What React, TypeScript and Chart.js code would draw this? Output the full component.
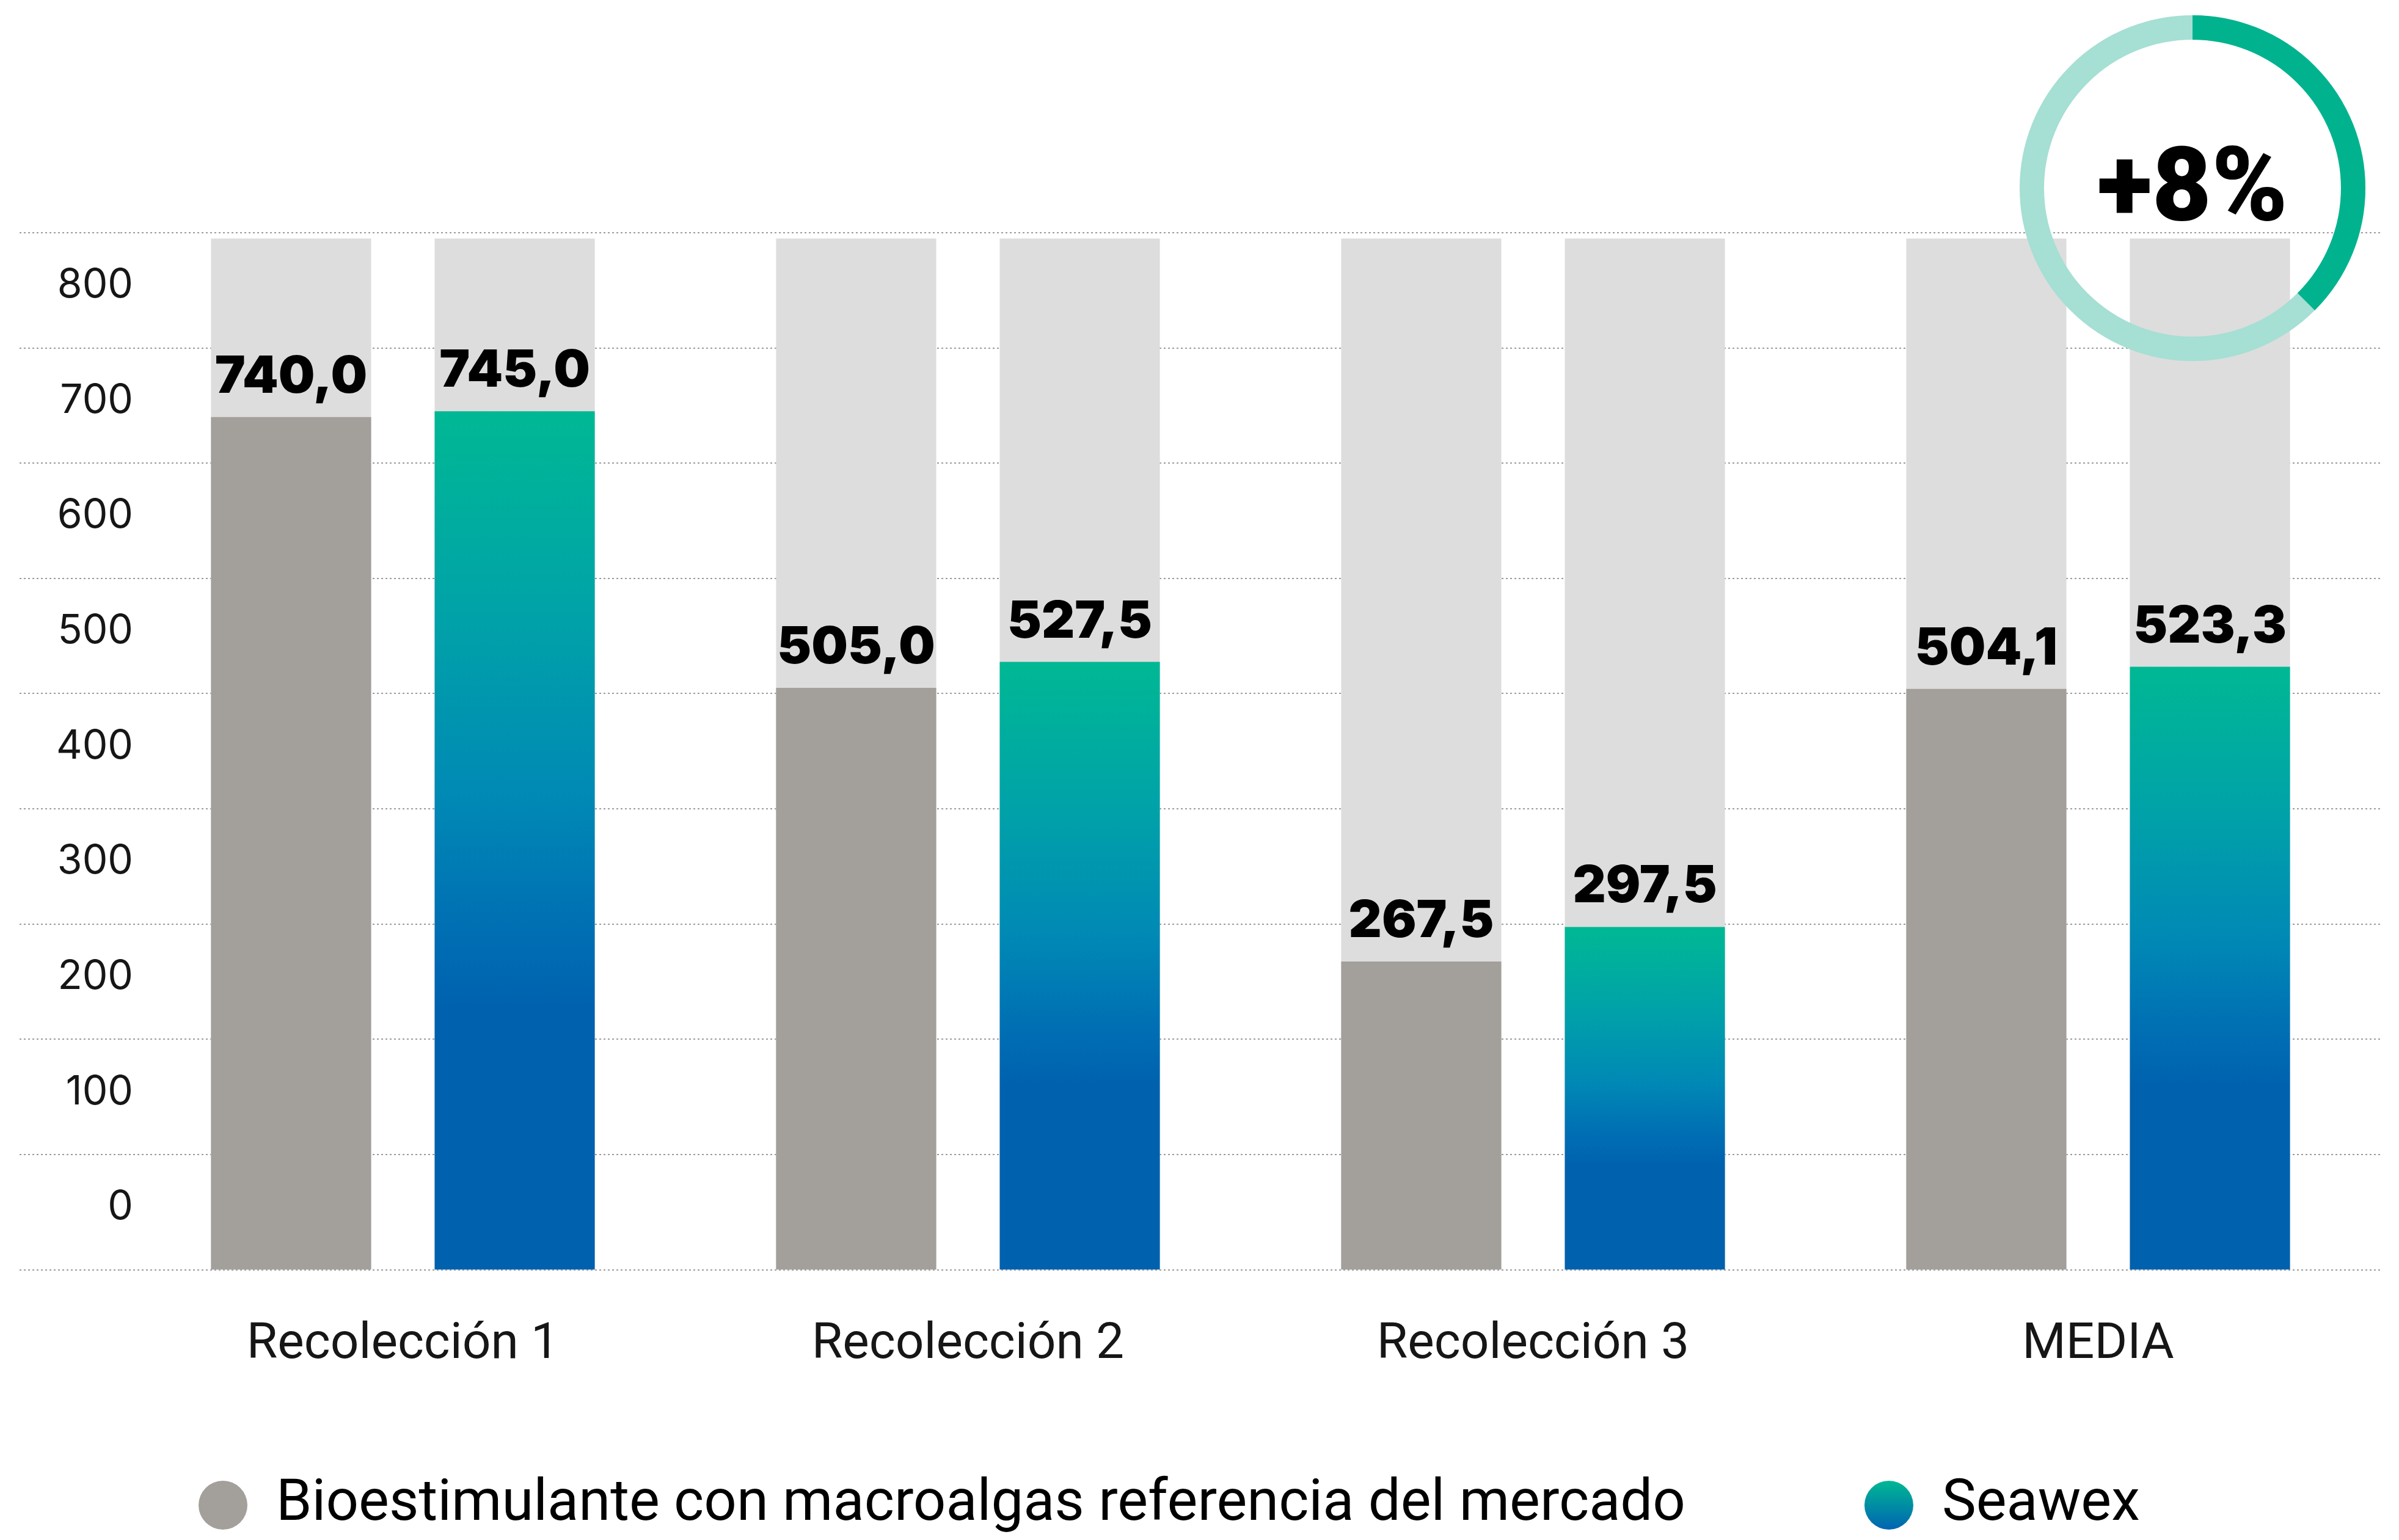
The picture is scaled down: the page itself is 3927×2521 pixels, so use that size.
import React, { useEffect, useRef } from 'react';
import { Chart, registerables } from 'chart.js';

Chart.register(...registerables);

// ---------- data ----------
const categories = ['Recolección 1', 'Recolección 2', 'Recolección 3', 'MEDIA'];
const referenciaValues = [740.0, 505.0, 267.5, 504.1];
const seawexValues = [745.0, 527.5, 297.5, 523.3];
const trackValues = [895, 895, 895, 895];
const yTickLabels = [0, 100, 200, 300, 400, 500, 600, 700, 800];
const seriesNames = ['Bioestimulante con macroalgas referencia del mercado', 'Seawex'];
const increaseLabel = '+8%';
const increaseArcFraction = 0.375;

// ---------- style ----------
const GRAY = '#a39f9b';
const TRACK = '#dddddd';
const GRID = '#9c9c9c';
const TEXT = '#161616';
const GRAD_STOPS: [number, string][] = [
  [0, '#00b894'],
  [0.25, '#00a1a9'],
  [0.45, '#0089b5'],
  [0.62, '#006cb3'],
  [0.7, '#0061ae'],
  [1, '#0061ae'],
];

const fmt = (v: number) => v.toFixed(1).replace('.', ',');

function makeMarker(fill: (ctx: CanvasRenderingContext2D) => string | CanvasGradient, w: number, d: number) {
  const c = document.createElement('canvas');
  c.width = w;
  c.height = d;
  const g = c.getContext('2d')!;
  g.beginPath();
  g.arc(w - d / 2, d / 2, d / 2, 0, Math.PI * 2);
  g.fillStyle = fill(g);
  g.fill();
  return c;
}

const valueLabelPlugin = {
  id: 'valueLabels',
  afterDatasetsDraw(chart: any) {
    const ctx = chart.ctx;
    ctx.save();
    ctx.font = '900 84px Inter';
    ctx.fillStyle = '#000';
    ctx.textAlign = 'center';
    ctx.textBaseline = 'alphabetic';
    [0, 1].forEach((di) => {
      const meta = chart.getDatasetMeta(di);
      const values = chart.data.datasets[di].data as number[];
      meta.data.forEach((bar: any, j: number) => {
        ctx.fillText(fmt(values[j]), bar.x, bar.y - 40);
      });
    });
    ctx.restore();
  },
};

const ringPlugin = {
  id: 'increaseRing',
  afterDatasetsDraw(chart: any) {
    const { ctx, chartArea } = chart;
    const cx = chartArea.right - 308;
    const cy = chartArea.top - 73;
    const r = 263;
    ctx.save();
    ctx.lineWidth = 40;
    ctx.lineCap = 'butt';
    ctx.strokeStyle = '#a6dfd4';
    ctx.beginPath();
    ctx.arc(cx, cy, r, 0, Math.PI * 2);
    ctx.stroke();
    ctx.strokeStyle = '#00b38e';
    ctx.beginPath();
    ctx.arc(cx, cy, r, -Math.PI / 2, -Math.PI / 2 + Math.PI * 2 * increaseArcFraction);
    ctx.stroke();
    ctx.font = '900 168px Roboto';
    ctx.fillStyle = '#000';
    ctx.textAlign = 'center';
    ctx.textBaseline = 'middle';
    ctx.fillText(increaseLabel, cx, cy + 10);
    ctx.restore();
  },
};

export default function App() {
  const canvasRef = useRef<HTMLCanvasElement | null>(null);

  useEffect(() => {
    const canvas = canvasRef.current;
    if (!canvas) return;

    const LEG_PAD = 98;
    const MARKER_D = 80;
    const MARKER_W = 275;

    const markerRef = makeMarker(() => GRAY, MARKER_W, MARKER_D);
    const markerSea = makeMarker((g) => {
      const gr = g.createLinearGradient(0, 0, 0, MARKER_D);
      gr.addColorStop(0, '#00b894');
      gr.addColorStop(1, '#0064b2');
      return gr;
    }, MARKER_W, MARKER_D);

    const seaGradient = (c: any) => {
      const chart = c.chart;
      const area = chart.chartArea;
      if (!area || c.raw === undefined) return '#0061ae';
      const ys = chart.scales.y;
      const top = ys.getPixelForValue(c.raw);
      const bottom = ys.getPixelForValue(0);
      const g = chart.ctx.createLinearGradient(0, top, 0, bottom);
      GRAD_STOPS.forEach(([o, col]) => g.addColorStop(o, col));
      return g;
    };

    const chart = new Chart(canvas, {
      type: 'bar',
      data: {
        labels: categories,
        datasets: [
          { label: seriesNames[0], data: referenciaValues, backgroundColor: GRAY, stack: 'ref', order: 1 },
          { label: seriesNames[1], data: seawexValues, backgroundColor: seaGradient, stack: 'sea', order: 1 },
          { label: 'track-ref', data: trackValues, backgroundColor: TRACK, stack: 'ref', order: 2 },
          { label: 'track-sea', data: trackValues, backgroundColor: TRACK, stack: 'sea', order: 2 },
        ] as any,
      },
      options: {
        animation: false,
        responsive: false,
        devicePixelRatio: 1,
        events: [],
        layout: { padding: { top: 381, left: 0, right: 30, bottom: 0 } },
        datasets: {
          bar: { categoryPercentage: 0.7915, barPercentage: 0.716, borderWidth: 0 },
        },
        scales: {
          x: {
            type: 'category',
            offset: true,
            grid: { display: false },
            border: { display: false },
            ticks: {
              font: { family: 'Roboto', size: 82 },
              color: TEXT,
              padding: 67,
              maxRotation: 0,
            },
          },
          y: {
            type: 'linear',
            min: 0,
            max: 900,
            stacked: false,
            afterBuildTicks: (axis: any) => {
              axis.ticks = yTickLabels.map((v) => ({ value: v + 50 }));
            },
            grid: {
              offset: true,
              color: GRID,
              lineWidth: 2,
              drawTicks: true,
              tickLength: 375,
              tickColor: GRID,
              tickWidth: 2,
              tickBorderDash: [3, 4],
            },
            border: { display: false, dash: [3, 4] },
            ticks: {
              mirror: true,
              crossAlign: 'far',
              padding: -105,
              labelOffset: -8,
              font: { family: 'Inter', size: 66 },
              color: TEXT,
              callback: (_v: any, i: number) => String(yTickLabels[i]),
            },
          } as any,
        },
        plugins: {
          tooltip: { enabled: false },
          legend: {
            position: 'bottom',
            align: 'start',
            maxHeight: 203,
            onClick: () => {},
            labels: {
              usePointStyle: true,
              pointStyleWidth: MARKER_W,
              padding: LEG_PAD,
              color: TEXT,
              font: { family: 'Roboto', size: 94 },
              generateLabels: () => [
                { text: seriesNames[0], pointStyle: markerRef as any, fillStyle: GRAY, strokeStyle: 'transparent', lineWidth: 0, hidden: false, datasetIndex: 0 },
                { text: seriesNames[1], pointStyle: markerSea as any, fillStyle: '#0090b0', strokeStyle: 'transparent', lineWidth: 0, hidden: false, datasetIndex: 1 },
              ],
            },
          } as any,
        },
      },
      plugins: [valueLabelPlugin, ringPlugin],
    });

    return () => chart.destroy();
  }, []);

  return (
    <div style={{ position: 'fixed', left: 32, top: 0, width: 3895, height: 2521, background: '#fff' }}>
      <canvas ref={canvasRef} width={3895} height={2521} style={{ display: 'block' }} />
    </div>
  );
}
